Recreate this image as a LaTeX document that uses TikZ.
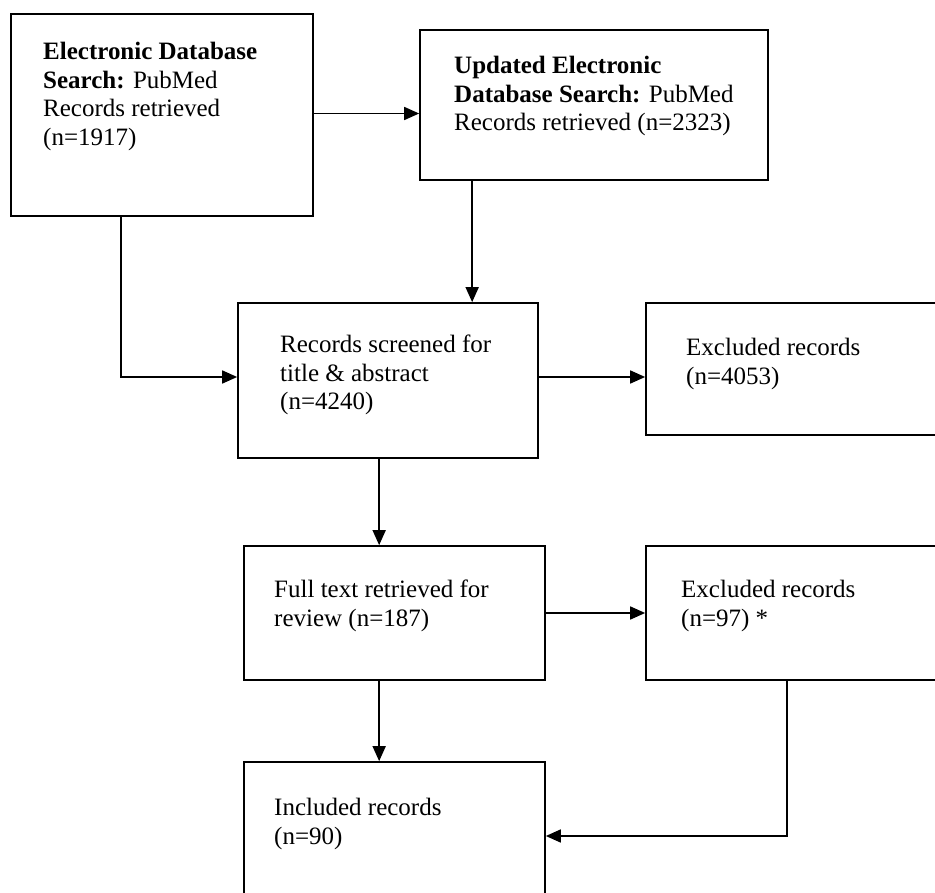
\documentclass[tikz,border=0pt]{standalone}
\usepackage{fontspec}
\setmainfont{Liberation Serif}
\usetikzlibrary{arrows.meta}
\tikzset{
  box/.style={draw=black, line width=1.7pt, rectangle, inner sep=0pt},
  txt/.style={anchor=north west, inner sep=0pt, align=left, font=\fontsize{25}{28.5}\selectfont},
  arr/.style={draw=black, line width=1.7pt, -{Triangle[length=15pt,width=13pt]}},
  ln/.style={draw=black, line width=1.7pt}
}
\begin{document}
\begin{tikzpicture}[x=1pt,y=-1pt]
\clip (0,0) rectangle (935,893);
\fill[white] (0,0) rectangle (935,893);
% boxes
\node[box, minimum width=302pt, minimum height=202pt] (s1) at (162,115) {};
\node[box, minimum width=348pt, minimum height=150pt] (s2) at (594,105) {};
\node[box, minimum width=300pt, minimum height=155pt] (mid) at (388,380.5) {};
\node[box, minimum width=314pt, minimum height=132pt] (exa) at (803,369) {};
\node[box, minimum width=301pt, minimum height=134pt] (full) at (394.5,613) {};
\node[box, minimum width=314pt, minimum height=134pt] (exb) at (803,613) {};
\node[box, minimum width=301pt, minimum height=148pt] (incl) at (394.5,836) {};
% texts
\node[txt] (t1) at (43,42) {\textbf{Electronic Database}\\\textbf{Search:} PubMed\\Records retrieved\\(n=1917)};
\node[txt] (t2) at (454,56) {\textbf{Updated Electronic}\\\textbf{Database Search:} PubMed\\Records retrieved (n=2323)};
\node[txt] (t3) at (280,335) {Records screened for\\title \& abstract\\(n=4240)};
\node[txt] (t4) at (686,338) {Excluded records\\(n=4053)};
\node[txt] (t5) at (274,580) {Full text retrieved for\\review (n=187)};
\node[txt] (t6) at (681,580) {Excluded records\\(n=97) *};
\node[txt] (t7) at (274,798) {Included records\\(n=90)};
% connectors
\draw[arr] ([yshift=1.5pt]s1.east) -- ([yshift=1.5pt]s1.east -| s2.west);
\draw[arr] ([xshift=111pt]s1.south west) |- ([yshift=3.5pt]mid.west);
\draw[arr] ([xshift=53pt]s2.south west) -- ([xshift=53pt]s2.south west |- mid.north);
\draw[arr] ([yshift=3.5pt]mid.east) -- ([yshift=3.5pt]mid.east -| exa.west);
\draw[arr] ([xshift=142pt]mid.south west) -- ([xshift=142pt]mid.south west |- full.north);
\draw[arr] (full.east) -- (exb.west);
\draw[arr] ([xshift=136pt]full.south west) -- ([xshift=136pt]full.south west |- incl.north);
\draw[arr] ([xshift=142pt]exb.south west) |- (incl.east);
\end{tikzpicture}
\end{document}
